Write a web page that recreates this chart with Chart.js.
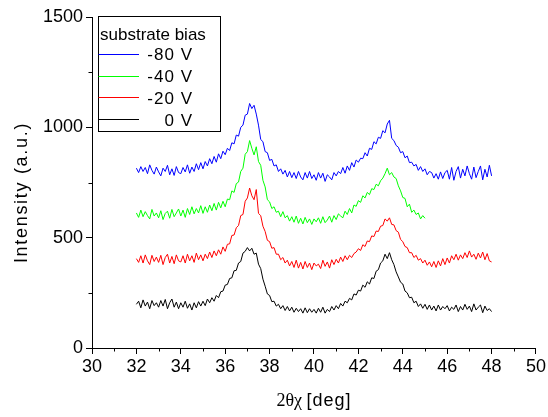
<!DOCTYPE html>
<html lang="en">
<head>
    <meta charset="UTF-8">
    <title>XRD substrate bias</title>
    <script src="https://cdn.jsdelivr.net/npm/chart.js"></script>
    <style>
        body { margin: 0; background: #fff; }
        canvas { display: block; }
    </style>
</head>
<body>
<canvas id="xrdChart" width="548" height="417"></canvas>
<script>
    // scan settings (2theta-chi, deg)
    const scanStart = 32;
    const scanStep = 0.1;

    const biasLabels = ['-80 V', '-40 V', '-20 V', '0 V'];
    const biasColors = ['#0000ff', '#00ff00', '#ff0000', '#000000'];

    // intensities, one row per degree
    const bias80 = [
        815, 795, 822, 800, 818, 790, 830, 805, 788, 820,
        798, 780, 815, 800, 828, 785, 812, 782, 822, 795,
        790, 818, 798, 830, 792, 820, 800, 835, 808, 840,
        812, 845, 825, 858, 835, 868, 842, 880, 858, 892,
        876, 905, 895, 930, 925, 965, 960, 1000, 1010, 1055,
        1060, 1108, 1085, 1100, 1060, 1010, 945, 935, 890, 885,
        850, 855, 825, 830, 800, 812, 788, 805, 775, 800,
        772, 795, 768, 800, 775, 762, 795, 770, 800, 768,
        785, 760, 795, 770, 792, 755, 785, 775, 762, 795,
        780, 800, 790, 818, 792, 825, 805, 840, 820, 852,
        842, 860, 858, 885, 870, 905, 900, 935, 925, 955,
        950, 985, 975, 1015, 1032, 950, 940, 918, 910, 885,
        890, 862, 870, 840, 842, 825, 832, 805, 822, 800,
        812, 785, 800, 795, 770, 790, 765, 798, 768, 795,
        805, 765, 818, 760, 800, 822, 770, 810, 780, 825,
        790, 765, 820, 772, 800, 825, 762, 810, 775, 828,
        780
    ];
    const bias40 = [
        612, 592, 625, 595, 618, 600, 585, 628, 598, 612,
        590, 622, 582, 610, 620, 588, 628, 595, 612, 630,
        598, 625, 592, 632, 605, 640, 608, 632, 612, 645,
        610, 640, 615, 648, 622, 655, 625, 660, 635, 665,
        640, 675, 672, 712, 705, 745, 752, 800, 815, 878,
        890, 940, 905, 875, 912, 845, 828, 760, 730, 672,
        662, 632, 640, 615, 620, 595, 618, 590, 600, 575,
        595, 570, 598, 565, 588, 562, 592, 568, 585, 560,
        585, 572, 590, 565, 595, 568, 580, 598, 570, 600,
        582, 608, 598, 590, 620, 605, 632, 612, 648, 642,
        668, 660, 690, 680, 705, 695, 722, 718, 742, 735,
        758, 770, 790, 815, 785, 795, 775, 768, 735, 712,
        682, 678, 640, 652, 615, 625, 605, 612, 585, 600,
        588
    ];
    const bias20 = [
        405, 388, 418, 385, 422, 395, 378, 420, 392, 412,
        388, 420, 378, 410, 425, 385, 415, 382, 422, 395,
        390, 418, 385, 425, 395, 418, 388, 430, 400, 422,
        395, 425, 405, 435, 410, 440, 418, 445, 425, 458,
        438, 470, 472, 510, 512, 545, 555, 600, 605, 665,
        680, 725, 690, 672, 718, 610, 600, 552, 528, 488,
        482, 452, 455, 425, 425, 400, 410, 385, 398, 372,
        392, 365, 398, 362, 388, 358, 392, 365, 385, 355,
        385, 372, 380, 360, 398, 370, 390, 362, 400, 378,
        402, 385, 412, 392, 418, 400, 420, 410, 428, 435,
        450, 442, 468, 460, 485, 482, 508, 505, 530, 528,
        552, 555, 585, 575, 590, 560, 558, 532, 525, 492,
        482, 460, 455, 432, 432, 410, 420, 398, 405, 385,
        398, 375, 390, 368, 392, 365, 395, 372, 405, 378,
        408, 385, 418, 400, 425, 398, 422, 405, 432, 410,
        440, 412, 425, 402, 430, 408, 435, 400, 428, 395,
        390
    ];
    const bias0 = [
        198, 212, 182, 218, 190, 208, 178, 215, 192, 205,
        185, 215, 190, 220, 178, 205, 222, 185, 208, 178,
        205, 185, 212, 180, 200, 172, 205, 182, 210, 190,
        212, 192, 222, 205, 228, 212, 238, 228, 255, 258,
        285, 288, 315, 318, 350, 352, 385, 392, 430, 438,
        455, 440, 452, 425, 430, 380, 360, 312, 280, 245,
        238, 210, 212, 190, 198, 178, 192, 170, 188, 168,
        185, 162, 180, 165, 178, 158, 182, 160, 178, 162,
        175, 158, 180, 162, 185, 158, 175, 165, 188, 172,
        192, 178, 202, 190, 212, 205, 225, 218, 245, 240,
        262, 258, 285, 275, 300, 290, 318, 315, 348, 355,
        385, 395, 425, 405, 432, 400, 378, 345, 322, 298,
        290, 258, 250, 228, 230, 205, 212, 188, 200, 180,
        198, 175, 195, 172, 190, 168, 195, 172, 188, 178,
        192, 168, 185, 175, 195, 165, 188, 172, 198, 175,
        190, 165, 200, 172, 185, 195, 160, 190, 170, 178,
        165
    ];

    const xTicks = [30, 32, 34, 36, 38, 40, 42, 44, 46, 48, 50];
    const yTicks = [0, 500, 1000, 1500];

    function toPoints(values) {
        return values.map((v, i) => ({ x: +(scanStart + i * scanStep).toFixed(1), y: v }));
    }

    const series = [bias80, bias40, bias20, bias0];

    const sans = '"Liberation Sans", Arial, sans-serif';
    const axisFont = { family: sans, size: 18 };

    // legend box, minor ticks and axis titles drawn by hand
    const extras = {
        id: 'extras',
        afterDraw(chart) {
            const ctx = chart.ctx;
            const xs = chart.scales.x, ys = chart.scales.y;
            const area = chart.chartArea;
            ctx.save();
            ctx.strokeStyle = '#000';
            ctx.lineWidth = 1;
            // minor ticks
            ctx.beginPath();
            for (let v = 31; v < 50; v += 2) {
                const px = Math.round(xs.getPixelForValue(v)) + 0.5;
                ctx.moveTo(px, area.bottom);
                ctx.lineTo(px, area.bottom + 3.5);
            }
            for (let v = 250; v < 1500; v += 500) {
                const py = Math.round(ys.getPixelForValue(v)) + 0.5;
                ctx.moveTo(area.left, py);
                ctx.lineTo(area.left - 3.5, py);
            }
            ctx.stroke();

            // legend
            ctx.strokeRect(98.5, 16.5, 122, 115);
            ctx.fillStyle = '#000';
            ctx.font = '17px ' + sans;
            ctx.textBaseline = 'alphabetic';
            ctx.textAlign = 'left';
            ctx.fillText('substrate bias', 100, 39.5);
            ctx.letterSpacing = '1px';
            chart.data.datasets.forEach((ds, i) => {
                const y = 53.7 + i * 21.8;
                ctx.strokeStyle = ds.borderColor;
                ctx.beginPath();
                ctx.moveTo(98.5, Math.round(y) + 0.5);
                ctx.lineTo(139, Math.round(y) + 0.5);
                ctx.stroke();
                ctx.textAlign = 'right';
                ctx.fillText(ds.label, 193, y + 6.5);
            });

            // y axis title
            ctx.save();
            ctx.translate(22.5, 192.5);
            ctx.rotate(-Math.PI / 2);
            ctx.font = '18px ' + sans;
            ctx.letterSpacing = '1.7px';
            ctx.textAlign = 'center';
            ctx.textBaseline = 'middle';
            ctx.fillText('Intensity (a.u.)', 0, 0);
            ctx.restore();

            // x axis title: serif symbols + sans unit
            const cx = (area.left + area.right) / 2;
            const sym = '2\u03b8\u03c7 ';
            const unit = '[deg]';
            const serifFont = '18px "Liberation Serif", "Times New Roman", serif';
            ctx.letterSpacing = '0px';
            ctx.font = serifFont;
            const w1 = ctx.measureText(sym).width;
            ctx.font = '18px ' + sans;
            ctx.letterSpacing = '1px';
            const w2 = ctx.measureText(unit).width;
            const x0 = cx - (w1 + w2) / 2;
            ctx.textAlign = 'left';
            ctx.textBaseline = 'alphabetic';
            ctx.fillText(unit, x0 + w1, 405.5);
            ctx.letterSpacing = '0px';
            ctx.font = serifFont;
            ctx.fillText(sym, x0, 405.5);
            ctx.restore();
        }
    };

    new Chart(document.getElementById('xrdChart'), {
        type: 'line',
        data: {
            datasets: series.map((vals, i) => ({
                label: biasLabels[i],
                data: toPoints(vals),
                borderColor: biasColors[i],
                backgroundColor: biasColors[i],
                borderWidth: 1,
                pointRadius: 0,
                tension: 0,
                fill: false
            }))
        },
        options: {
            responsive: false,
            animation: false,
            layout: { padding: { left: 0, right: 11, top: 17, bottom: 0 } },
            plugins: {
                legend: { display: false },
                tooltip: { enabled: false }
            },
            scales: {
                x: {
                    type: 'linear',
                    min: 30,
                    max: 50,
                    afterBuildTicks: (s) => { s.ticks = xTicks.map(v => ({ value: v })); },
                    afterFit: (s) => { s.height = 69; },
                    grid: { drawOnChartArea: false, color: '#000', tickLength: 6 },
                    border: { display: true, color: '#000', width: 1 },
                    ticks: { color: '#000', font: axisFont, padding: 2, maxRotation: 0,
                             callback: (v) => String(v) }
                },
                y: {
                    type: 'linear',
                    min: 0,
                    max: 1500,
                    afterBuildTicks: (s) => { s.ticks = yTicks.map(v => ({ value: v })); },
                    afterFit: (s) => { s.width = 92; },
                    grid: { drawOnChartArea: false, color: '#000', tickLength: 6 },
                    border: { display: true, color: '#000', width: 1 },
                    ticks: { color: '#000', font: axisFont, padding: 3,
                             callback: (v) => String(v) }
                }
            }
        },
        plugins: [extras]
    });
</script>
</body>
</html>
